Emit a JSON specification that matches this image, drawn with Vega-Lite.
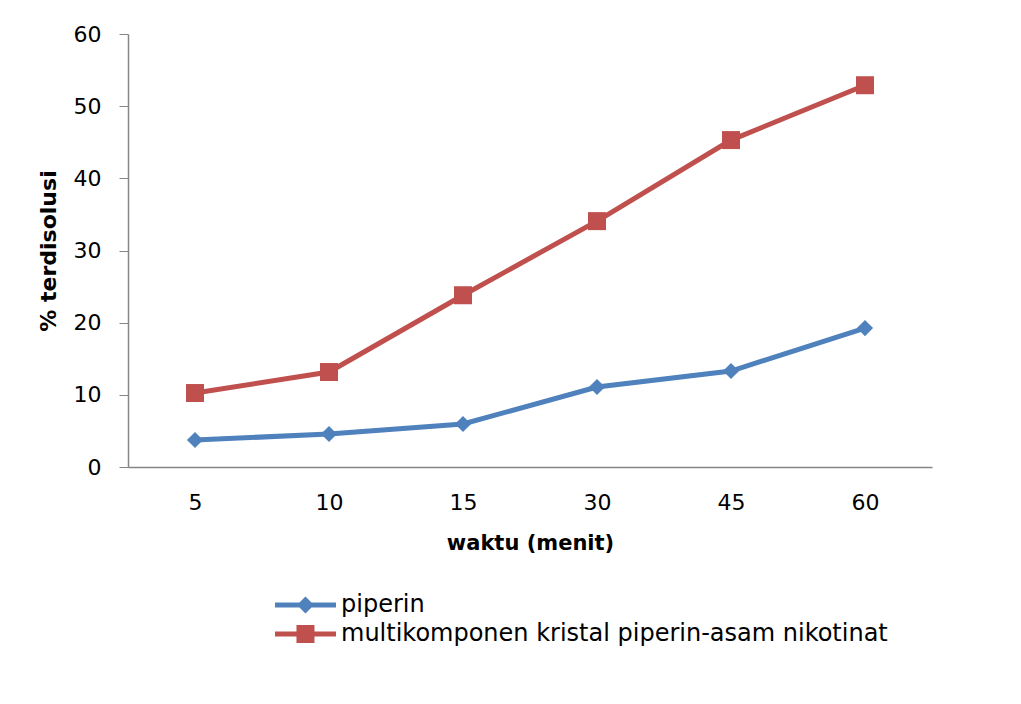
{
  "$schema": "https://vega.github.io/schema/vega-lite/v6.json",
  "width": 804,
  "height": 433,
  "autosize": {"type": "none"},
  "padding": {"left": 128, "top": 34, "right": 89, "bottom": 237},
  "background": "white",
  "config": {
    "view": {"stroke": null},
    "font": "DejaVu Sans",
    "axis": {"labelFont": "DejaVu Sans", "titleFont": "DejaVu Sans", "labelColor": "#000000", "titleColor": "#000000", "domainColor": "#868686", "tickColor": "#868686", "grid": false}
  },
  "data": {
    "values": [
      {"waktu": 5, "series": "piperin", "value": 3.74},
      {"waktu": 10, "series": "piperin", "value": 4.57},
      {"waktu": 15, "series": "piperin", "value": 5.96},
      {"waktu": 30, "series": "piperin", "value": 11.08},
      {"waktu": 45, "series": "piperin", "value": 13.3},
      {"waktu": 60, "series": "piperin", "value": 19.25},
      {"waktu": 5, "series": "multikomponen kristal piperin-asam nikotinat", "value": 10.25},
      {"waktu": 10, "series": "multikomponen kristal piperin-asam nikotinat", "value": 13.16},
      {"waktu": 15, "series": "multikomponen kristal piperin-asam nikotinat", "value": 23.8},
      {"waktu": 30, "series": "multikomponen kristal piperin-asam nikotinat", "value": 34.07},
      {"waktu": 45, "series": "multikomponen kristal piperin-asam nikotinat", "value": 45.3},
      {"waktu": 60, "series": "multikomponen kristal piperin-asam nikotinat", "value": 52.9}
    ]
  },
  "encoding": {
    "x": {
      "field": "waktu", "type": "ordinal",
      "scale": {"type": "point", "padding": 0.5},
      "axis": {"title": "waktu (menit)", "labelAngle": 0, "ticks": false, "labelFontSize": 22, "labelPadding": 25, "titleFontSize": 21, "titleFontWeight": "bold", "titlePadding": 19, "domainWidth": 1.5}
    },
    "y": {
      "field": "value", "type": "quantitative",
      "scale": {"domain": [0, 60]},
      "axis": {"title": "% terdisolusi", "values": [0, 10, 20, 30, 40, 50, 60], "tickSize": 9, "labelPadding": 18, "labelFontSize": 22, "titleFontSize": 22, "titleFontWeight": "bold", "titlePadding": 13, "domainWidth": 1.5}
    }
  },
  "layer": [
    {
      "mark": {"type": "point", "filled": true, "opacity": 1},
      "encoding": {
        "size": {"value": 0},
        "color": {
          "field": "series", "type": "nominal",
          "sort": ["piperin", "multikomponen kristal piperin-asam nikotinat"],
          "scale": {"domain": ["piperin", "multikomponen kristal piperin-asam nikotinat"], "range": ["#4F81BD", "#C0504D"]},
          "legend": {
            "title": null,
            "orient": "none",
            "legendX": 141,
            "legendY": 559,
            "direction": "vertical",
            "labelFont": "DejaVu Sans",
            "labelFontSize": 24,
            "labelColor": "#000000",
            "labelOffset": 48,
            "symbolSize": 144,
            "symbolStrokeWidth": 0,
            "symbolOpacity": 1,
            "rowPadding": 5,
            "labelLimit": 1000
          }
        },
        "shape": {
          "field": "series", "type": "nominal",
          "sort": ["piperin", "multikomponen kristal piperin-asam nikotinat"],
          "scale": {"domain": ["piperin", "multikomponen kristal piperin-asam nikotinat"], "range": ["M-1,-0.42 L3.08,-0.42 L4.08,-1.42 L5.08,-0.42 L9.17,-0.42 L9.17,0.42 L5.08,0.42 L4.08,1.42 L3.08,0.42 L-1,0.42 Z", "M-1,-0.42 L2.58,-0.42 L2.58,-1.5 L5.58,-1.5 L5.58,-0.42 L9.17,-0.42 L9.17,0.42 L5.58,0.42 L5.58,1.5 L2.58,1.5 L2.58,0.42 L-1,0.42 Z"]}
        }
      }
    },
    {
      "mark": {"type": "line", "strokeWidth": 5},
      "encoding": {
        "color": {"field": "series", "type": "nominal", "sort": ["piperin", "multikomponen kristal piperin-asam nikotinat"], "legend": null}
      }
    },
    {
      "transform": [{"filter": "datum.series === 'piperin'"}],
      "mark": {"type": "point", "filled": true, "opacity": 1, "shape": "diamond", "size": 260, "color": "#4F81BD"}
    },
    {
      "transform": [{"filter": "datum.series !== 'piperin'"}],
      "mark": {"type": "point", "filled": true, "opacity": 1, "shape": "square", "size": 324, "color": "#C0504D"}
    }
  ]
}
